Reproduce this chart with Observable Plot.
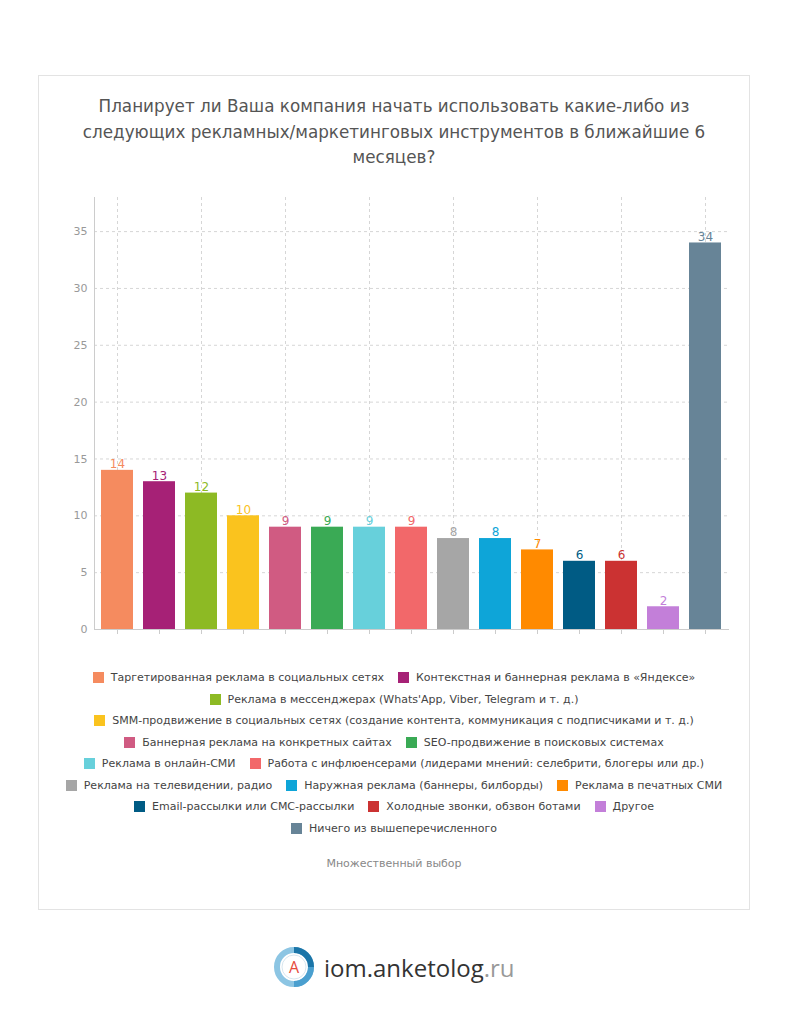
<!DOCTYPE html>
<html><head><meta charset="utf-8">
<script src="https://cdn.jsdelivr.net/npm/d3@7"></script>
<script src="https://cdn.jsdelivr.net/npm/@observablehq/plot@0.6"></script>
<style>
body{margin:0;background:#fff;font-family:"DejaVu Sans",sans-serif;}
#card{position:absolute;left:38px;top:75px;width:710px;height:833px;border:1px solid #e3e3e3;background:#fff;}
#title{position:absolute;left:0;top:18px;width:710px;text-align:center;font-size:16.8px;line-height:25.5px;color:#555;}
#chart{position:absolute;left:0;top:109px;}
#legend{position:absolute;left:5px;width:700px;top:591px;display:flex;flex-wrap:wrap;justify-content:center;font-size:11px;color:#444;line-height:21.5px;}
.item{display:inline-flex;align-items:center;margin:0 7px;white-space:nowrap;}
.sw{width:11px;height:11px;margin-right:7px;display:inline-block;}
#sub{position:absolute;left:0;width:710px;top:781px;text-align:center;font-size:11px;color:#888;}
#footer{position:absolute;left:272px;top:945px;display:flex;align-items:center;}
#footer .t{font-family:"Open Sans",sans-serif;font-size:24px;color:#333;margin-left:8px;}
#footer .t span{color:#999;}
</style>
</head><body>
<div id="card">
  <div id="title">Планирует ли Ваша компания начать использовать какие-либо из<br>следующих рекламных/маркетинговых инструментов в ближайшие 6<br>месяцев?</div>
  <div id="chart"></div>
  <div id="legend"></div>
  <div id="sub">Множественный выбор</div>
</div>
<div id="footer">
  <svg width="44" height="44" viewBox="0 0 44 44">
    <circle cx="22" cy="22" r="17" fill="none" stroke="#8cc5e3" stroke-width="6"/>
    <path d="M22 5 A17 17 0 0 1 39 22" fill="none" stroke="#1b75a8" stroke-width="6"/>
    <path d="M39 22 A17 17 0 0 1 22 39" fill="none" stroke="#4a9fcf" stroke-width="6"/>
    <circle cx="22" cy="22" r="12" fill="#fff" stroke="#d8e6ef" stroke-width="1"/>
    <text x="22" y="28" text-anchor="middle" font-family="Open Sans, sans-serif" font-size="16" fill="#e64b3c">A</text>
  </svg>
  <div class="t">iom.anketolog<span>.ru</span></div>
</div>
<script>
const categories = [
  "Таргетированная реклама в социальных сетях",
  "Контекстная и баннерная реклама в «Яндексе»",
  "Реклама в мессенджерах (Whats'App, Viber, Telegram и т. д.)",
  "SMM-продвижение в социальных сетях (создание контента, коммуникация с подписчиками и т. д.)",
  "Баннерная реклама на конкретных сайтах",
  "SEO-продвижение в поисковых системах",
  "Реклама в онлайн-СМИ",
  "Работа с инфлюенсерами (лидерами мнений: селебрити, блогеры или др.)",
  "Реклама на телевидении, радио",
  "Наружная реклама (баннеры, билборды)",
  "Реклама в печатных СМИ",
  "Email-рассылки или СМС-рассылки",
  "Холодные звонки, обзвон ботами",
  "Другое",
  "Ничего из вышеперечисленного"
];
const values = [14, 13, 12, 10, 9, 9, 9, 9, 8, 8, 7, 6, 6, 2, 34];
const colors = ["#F58B5F","#A62176","#8DBA24","#FAC31E","#D05B82","#3AAA55","#67D0DB","#F2686A","#A6A6A6","#0EA5D8","#FF8A00","#005B84","#CB3232","#C37FD9","#678497"];
const yTicks = [0, 5, 10, 15, 20, 25, 30, 35];

const data = categories.map((c, i) => ({c, v: values[i], col: colors[i]}));
const gridCats = categories.filter((_, i) => i % 2 === 0);

const chart = Plot.plot({
  width: 710, height: 462,
  marginLeft: 55, marginRight: 20, marginTop: 12, marginBottom: 18,
  style: {fontFamily: "DejaVu Sans, sans-serif", fontSize: "11px", color: "#999", background: "transparent"},
  x: {domain: categories, paddingInner: 0.23, paddingOuter: 0.1, axis: null},
  y: {domain: [0, 38], axis: null},
  color: {type: "identity"},
  marks: [
    Plot.gridY(yTicks.filter(t => t > 0), {stroke: "#d6d6d6", strokeOpacity: 1, strokeDasharray: "3,3"}),
    Plot.gridX(gridCats, {stroke: "#d6d6d6", strokeOpacity: 1, strokeDasharray: "3,3"}),
    Plot.barY(data, {x: "c", y: "v", fill: "col"}),
    Plot.text(data, {x: "c", y: "v", text: "v", fill: "col", dy: -6, fontSize: 12}),
    Plot.axisY({ticks: yTicks, tickSize: 0, tickPadding: 7, fill: "#999", fontSize: 11, label: null}),
    Plot.axisX({tickSize: 5, tickFormat: () => "", stroke: "#ccc", label: null}),
    Plot.ruleY([0], {stroke: "#ccc"}),
    Plot.frame({anchor: "left", stroke: "#ccc"})
  ]
});
document.getElementById("chart").appendChild(chart);

const legend = document.getElementById("legend");
categories.forEach((c, i) => {
  const it = document.createElement("span");
  it.className = "item";
  const sw = document.createElement("span");
  sw.className = "sw";
  sw.style.background = colors[i];
  it.appendChild(sw);
  it.appendChild(document.createTextNode(c));
  legend.appendChild(it);
});
</script>
</body></html>
